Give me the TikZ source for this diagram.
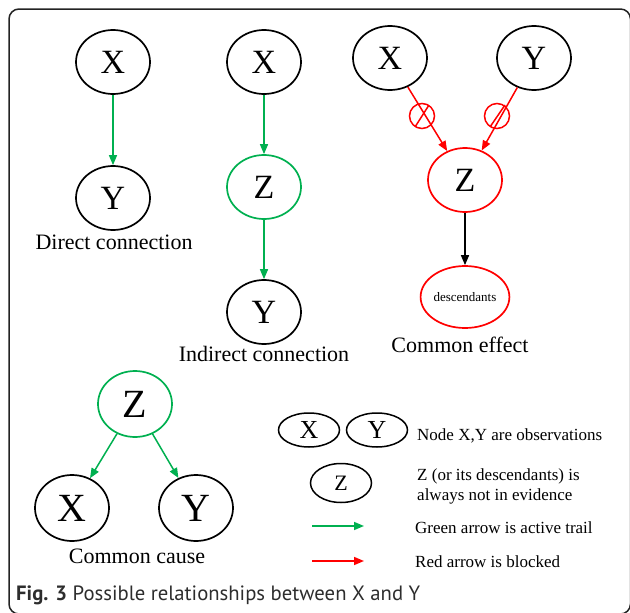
\documentclass[tikz,border=0pt]{standalone}
\usepackage{fontspec}
\setmainfont{Liberation Serif}
\newfontfamily\capfont{PT Sans}
\usetikzlibrary{arrows.meta,shapes.geometric}
\definecolor{grn}{RGB}{0,176,80}
\definecolor{rd}{RGB}{255,0,0}
\definecolor{frm}{RGB}{35,35,35}
\definecolor{captxt}{RGB}{45,45,45}
\begin{document}
\begin{tikzpicture}[x=1pt,y=-1pt,
  var/.style={draw, ellipse, line width=1.7pt, minimum width=74pt, minimum height=64pt, inner sep=0pt, font=\fontsize{34}{34}\selectfont},
  bigvar/.style={var, minimum height=66pt, font=\fontsize{40}{40}\selectfont},
  legvar/.style={draw, ellipse, line width=1.5pt, minimum width=61pt, minimum height=34pt, inner sep=0pt, font=\fontsize{26}{26}\selectfont},
  lbl/.style={anchor=base, inner sep=0pt, font=\fontsize{22}{22}\selectfont},
  legtxt/.style={anchor=base west, inner sep=0pt, font=\fontsize{17}{20}\selectfont},
  edge/.style={line width=1.5pt, -{Triangle[length=10pt,width=8pt]}},
  blockc/.style={circle, draw=rd, line width=1.5pt, minimum size=25pt, inner sep=0pt}
]
\useasboundingbox (0,0) rectangle (630,613);
\draw[frm, line width=1.5pt, rounded corners=10pt] (9,9) rectangle (630.5,614);

% Direct connection
\node[var] (dx) at (113,62) {X};
\node[var] (dy) at (113,198) {Y};
\draw[edge, grn] (dx) -- (dy);
\node[lbl] (dlab) at (114,249) {Direct connection};

% Indirect connection
\node[var] (ix) at (264,62) {X};
\node[var, draw=grn] (iz) at (264,187) {Z};
\node[var] (iy) at (264,312) {Y};
\draw[edge, grn] (ix) -- (iz);
\draw[edge, grn] (iz) -- (iy);
\node[lbl] (ilab) at (264,361) {Indirect connection};

% Common effect
\node[var] (ex) at (390,58) {X};
\node[var] (ey) at (534,58) {Y};
\node[var, draw=rd] (ez) at (465,180) {Z};
\node[var, draw=rd, minimum width=72pt, minimum height=62pt, font=\fontsize{13}{13}\selectfont] (ed) at (465,297) {descendants};
\draw[edge, rd] (ex) -- (ez);
\draw[edge, rd] (ey) -- (ez);
\draw[edge, black] (ez) -- (ed);
\node[blockc] (b1) at (422,116) {};
\node[blockc] (b2) at (497,116) {};
\draw[rd, line width=1.5pt] (b1.center) ++(7,-11) -- ++(-14,22);
\draw[rd, line width=1.5pt] (b2.center) ++(8,-11) -- ++(-15,22);
\node[lbl] (elab) at (460,352) {Common effect};

% Common cause
\node[bigvar, draw=grn] (cz) at (135,404) {Z};
\node[bigvar] (cx) at (72,508) {X};
\node[bigvar] (cy) at (196,508) {Y};
\draw[edge, grn] (cz) -- (cx);
\draw[edge, grn] (cz) -- (cy);
\node[lbl] (clab) at (137,563) {Common cause};

% Legend
\node[legvar] (lx) at (309,430) {X};
\node[legvar] (ly) at (377,430) {Y};
\node[legvar, minimum height=39pt, font=\fontsize{22}{22}\selectfont] (lz) at (341,483) {Z};
\node[legtxt] (t1) at (417,440) {Node X,Y are observations};
\node[legtxt] (t2a) at (417,480) {Z (or its descendants) is};
\node[legtxt] (t2b) at (417,500) {always not in evidence};
\coordinate (ga) at (312,526);
\coordinate (gb) at (364,526);
\coordinate (ra) at (312,561);
\coordinate (rb) at (364,561);
\draw[edge, grn] (ga) -- (gb);
\draw[edge, rd] (ra) -- (rb);
\node[legtxt] (t3) at (415,533) {Green arrow is active trail};
\node[legtxt] (t4) at (415,567) {Red arrow is blocked};

% Caption
\node[anchor=base west, inner sep=0pt, text=captxt, font=\capfont\fontsize{20.7}{20.7}\selectfont] (cap) at (16,600) {\textbf{Fig. 3} Possible relationships between X and Y};
\end{tikzpicture}
\end{document}
